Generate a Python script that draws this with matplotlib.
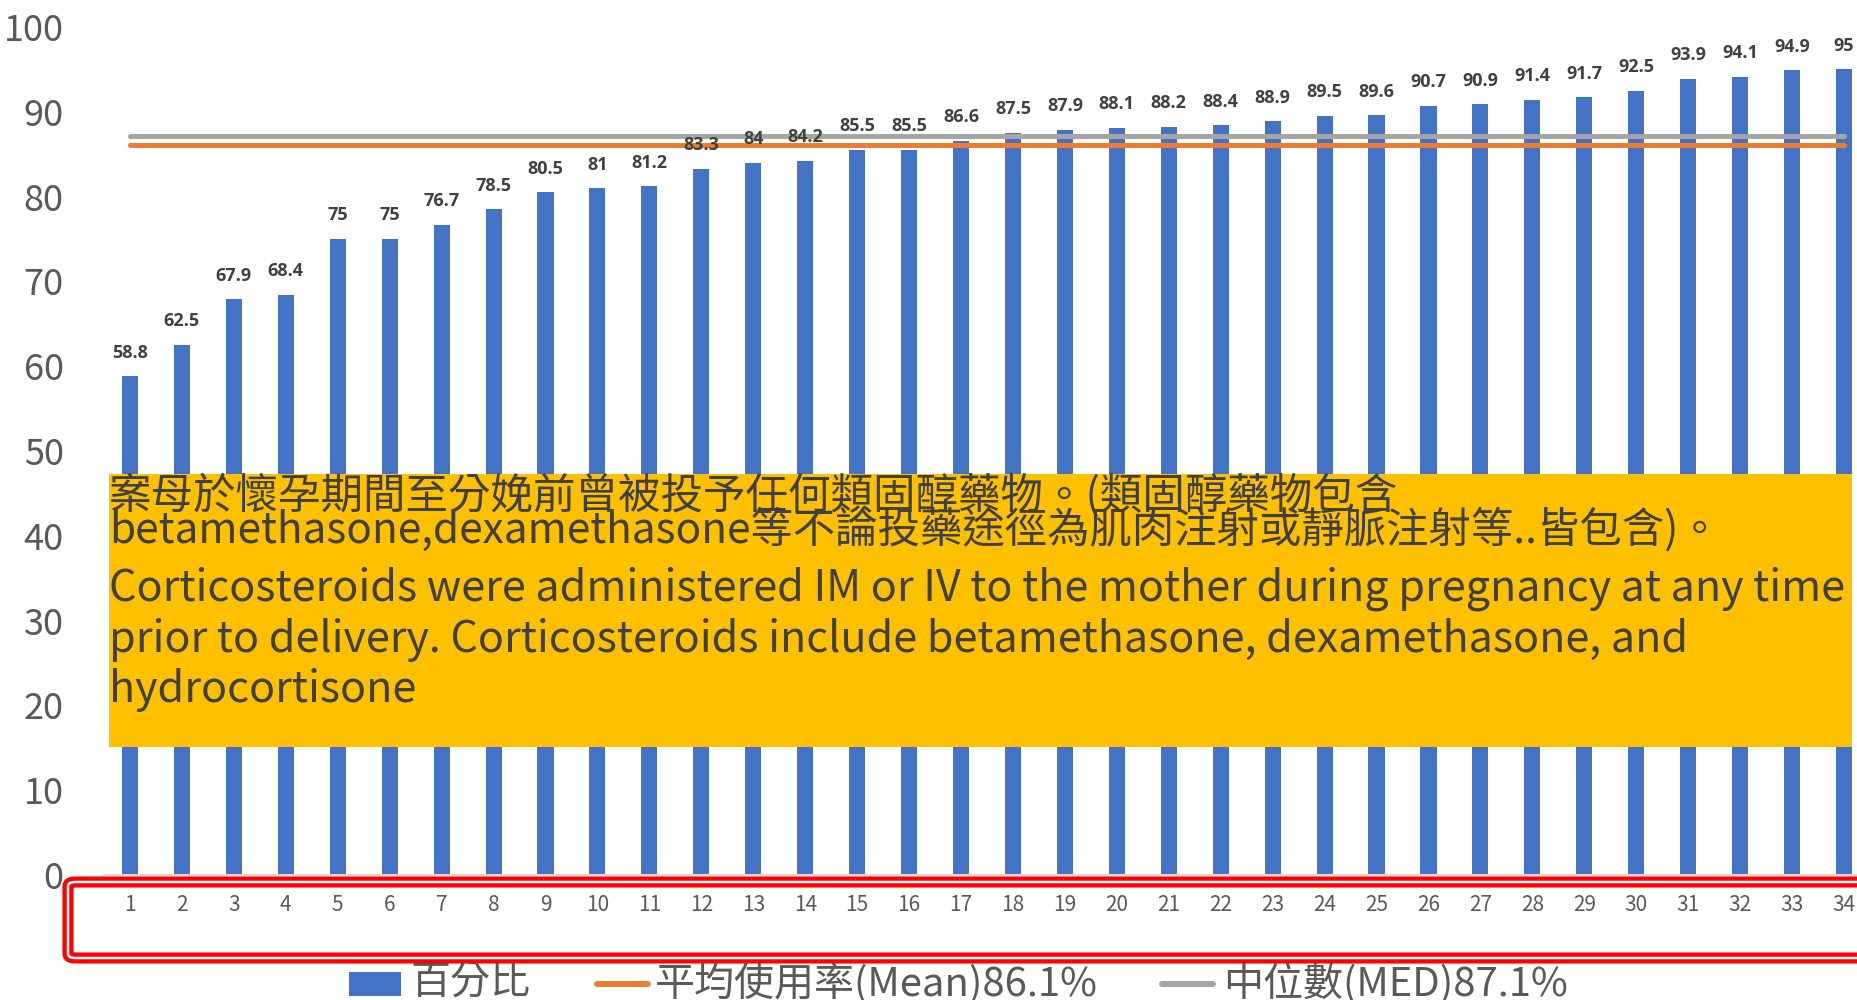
import matplotlib
matplotlib.use("Agg")
import matplotlib.pyplot as plt
from matplotlib.patches import Rectangle, FancyBboxPatch
from matplotlib.lines import Line2D

plt.rcParams['font.family'] = ['Noto Sans CJK TC', 'DejaVu Sans']

# data
hospitals = list(range(1, 35))
percent = [58.8, 62.5, 67.9, 68.4, 75, 75, 76.7, 78.5, 80.5, 81, 81.2, 83.3,
           84, 84.2, 85.5, 85.5, 86.6, 87.5, 87.9, 88.1, 88.2, 88.4, 88.9,
           89.5, 89.6, 90.7, 90.9, 91.4, 91.7, 92.5, 93.9, 94.1, 94.9, 95]
mean_val = 86.1
median_val = 87.1
yticks = [0, 10, 20, 30, 40, 50, 60, 70, 80, 90, 100]

legend_labels = ["百分比", "平均使用率(Mean)86.1%", "中位數(MED)87.1%"]
note_lines = [
    "案母於懷孕期間至分娩前曾被投予任何類固醇藥物。(類固醇藥物包含",
    "betamethasone,dexamethasone等不論投藥途徑為肌肉注射或靜脈注射等..皆包含)。",
    "Corticosteroids were administered IM or IV to the mother during pregnancy at any time",
    "prior to delivery. Corticosteroids include betamethasone, dexamethasone, and",
    "hydrocortisone",
]

BLUE = "#4472C4"
ORANGE = "#ED7D31"
GRAY = "#A5A5A5"
W, H = 1857, 1000

def fx(px):
    return px / W

def fy(py):
    return 1 - py / H

fig = plt.figure(figsize=(18.57, 10), dpi=100)
ax = fig.add_axes([fx(104), fy(875), 1 - fx(104), (875 - 27) / H])

ax.bar(hospitals, percent, width=0.31, color=BLUE, zorder=2)
ax.plot([hospitals[0], hospitals[-1]], [median_val, median_val], color=GRAY,
        lw=3.6, solid_capstyle='round', zorder=3)
ax.plot([hospitals[0], hospitals[-1]], [mean_val, mean_val], color=ORANGE,
        lw=3.6, solid_capstyle='round', zorder=3)

for x, v in zip(hospitals, percent):
    ax.annotate(f"{v:g}", (x, v), xytext=(0, 17), textcoords='offset points',
                ha='center', va='center', fontsize=13, fontweight='bold',
                color="#404040", family=['Open Sans', 'DejaVu Sans'], zorder=4)

ax.set_xlim(0.5, 34.25)
ax.set_ylim(0, 100)
ax.set_yticks(yticks)
ax.set_xticks(hospitals)
ax.tick_params(axis='y', length=0, pad=29, labelsize=26, labelcolor="#595959")
ax.tick_params(axis='x', length=0, pad=14, labelsize=15, labelcolor="#595959")
for s in ['top', 'right', 'left']:
    ax.spines[s].set_visible(False)
ax.spines['bottom'].set_color("#D9D9D9")
ax.spines['bottom'].set_linewidth(1.5)

# yellow note box over the chart
fig.add_artist(Rectangle((fx(109), fy(747)), fx(1852) - fx(109), (747 - 474) / H,
                         transform=fig.transFigure, facecolor="#FFC000",
                         edgecolor='none', zorder=5))
line_y = [496, 530, 589, 640, 690]
line_size = [30.6, 30.5, 31, 31, 31]
for txt, y, fs in zip(note_lines, line_y, line_size):
    fig.text(fx(109), fy(y), txt, ha='left', va='center', fontsize=fs,
             color="#404040", zorder=6)

# red double outline around the x labels
box = FancyBboxPatch((fx(68), fy(958)), 1.2, (958 - 882) / H,
                     boxstyle="round,pad=0,rounding_size=0.004",
                     transform=fig.transFigure, facecolor='none',
                     edgecolor="#FF0000", lw=8, zorder=7)
fig.add_artist(box)
box2 = FancyBboxPatch((fx(68), fy(958)), 1.2, (958 - 882) / H,
                      boxstyle="round,pad=0,rounding_size=0.004",
                      transform=fig.transFigure, facecolor='none',
                      edgecolor="white", lw=1.8, zorder=8)
fig.add_artist(box2)

# legend
ly = fy(984)
fig.add_artist(Rectangle((fx(349), fy(996)), fx(401) - fx(349), (996 - 972) / H,
                         transform=fig.transFigure, facecolor=BLUE,
                         edgecolor='none'))
fig.add_artist(Line2D([fx(597), fx(648)], [ly, ly], transform=fig.transFigure,
                      color=ORANGE, lw=4.3, solid_capstyle='round'))
fig.add_artist(Line2D([fx(1162), fx(1213)], [ly, ly], transform=fig.transFigure,
                      color=GRAY, lw=4.3, solid_capstyle='round'))
for txt, x in zip(legend_labels, [410, 655, 1223]):
    fig.text(fx(x), ly, txt, ha='left', va='center', fontsize=28.8,
             fontweight='light', color="#595959")

fig.savefig("out.png", dpi=100)
